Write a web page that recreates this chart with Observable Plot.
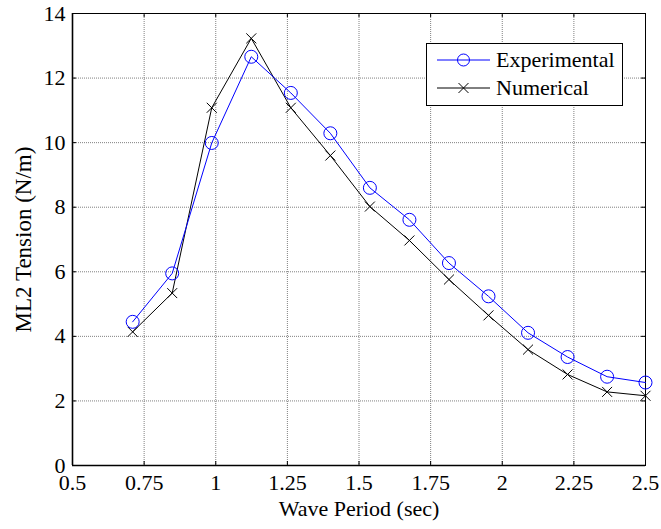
<!DOCTYPE html>
<html>
<head>
<meta charset="utf-8">
<script src="https://cdn.jsdelivr.net/npm/d3@7"></script>
<script src="https://cdn.jsdelivr.net/npm/@observablehq/plot@0.6"></script>
<style>
  body { margin: 0; background: white; }
  #wrap { position: relative; width: 661px; height: 529px; }
  #legend { position: absolute; left: 426px; top: 43px; width: 195px; height: 61px;
    background: white; border: 1px solid black; }
</style>
</head>
<body>
<div id="wrap">
  <div id="chart"></div>
  <div id="legend"></div>
</div>
<script>
const periods      = [0.71, 0.848, 0.986, 1.124, 1.262, 1.40, 1.538, 1.676, 1.814, 1.952, 2.09, 2.228, 2.366, 2.5];
const experimental = [4.45, 5.95, 9.99, 12.66, 11.54, 10.29, 8.60, 7.61, 6.27, 5.24, 4.11, 3.36, 2.75, 2.57];
const numerical    = [4.14, 5.34, 11.08, 13.23, 11.08, 9.60, 8.02, 6.97, 5.76, 4.65, 3.59, 2.82, 2.28, 2.16];
const seriesNames  = ["Experimental", "Numerical"];
const xTicks       = [0.5, 0.75, 1, 1.25, 1.5, 1.75, 2, 2.25, 2.5];
const xTickLabels  = ["0.5", "0.75", "1", "1.25", "1.5", "1.75", "2", "2.25", "2.5"];
const yTicks       = [0, 2, 4, 6, 8, 10, 12, 14];
const xLabel = "Wave Period (sec)";
const yLabel = "ML2 Tension (N/m)";

const expData = periods.map((p, i) => ({x: p, y: experimental[i]}));
const numData = periods.map((p, i) => ({x: p, y: numerical[i]}));

const W = 661, H = 529, mL = 72, mR = 16, mT = 13, mB = 64;
const innerW = W - mL - mR, innerH = H - mT - mB;
const FONT = "'Liberation Serif', 'Times New Roman', serif";
const FS = 22;
const gridStyle = {stroke: "#808080", strokeOpacity: 1, strokeWidth: 1, strokeDasharray: "1,1"};

const chart = Plot.plot({
  width: W, height: H,
  marginLeft: mL, marginRight: mR, marginTop: mT, marginBottom: mB,
  style: {fontFamily: FONT, fontSize: FS + "px", color: "black", background: "white", overflow: "visible"},
  x: {domain: [0.5, 2.5], ticks: xTicks},
  y: {domain: [0, 14], ticks: yTicks},
  marks: [
    Plot.gridX(xTicks, gridStyle),
    Plot.gridY(yTicks, gridStyle),
    Plot.axisX(xTicks, {tickSize: 0, tickPadding: 9, label: null,
      tickFormat: d => xTickLabels[xTicks.indexOf(d)], fontSize: FS}),
    Plot.axisY(yTicks, {tickSize: 0, tickPadding: 7, label: null, fontSize: FS}),
    // inward tick marks
    Plot.tickX(xTicks, {x: d => d, insetTop: innerH - 4, stroke: "black"}),
    Plot.tickX(xTicks, {x: d => d, insetBottom: innerH - 4, stroke: "black"}),
    Plot.tickY(yTicks, {y: d => d, insetRight: innerW - 4, stroke: "black"}),
    Plot.tickY(yTicks, {y: d => d, insetLeft: innerW - 4, stroke: "black"}),
    Plot.frame({stroke: "black", strokeWidth: 1}),
    Plot.ruleX([0.5], {stroke: "black", strokeWidth: 1.6}),
    Plot.ruleY([0], {stroke: "black", strokeWidth: 1.6}),
    // series
    Plot.line(numData, {x: "x", y: "y", stroke: "black", strokeWidth: 1}),
    Plot.dot(numData, {x: "x", y: "y", symbol: "times", r: 4.6, stroke: "black", strokeWidth: 1}),
    Plot.line(expData, {x: "x", y: "y", stroke: "#0000ff", strokeWidth: 1}),
    Plot.dot(expData, {x: "x", y: "y", symbol: "circle", r: 6.5, stroke: "#0000ff", fill: "none", strokeWidth: 1}),
    // axis titles
    Plot.text([xLabel], {text: d => d, frameAnchor: "bottom", lineAnchor: "middle", textAnchor: "middle",
      dy: 43, fontSize: FS, fill: "black"}),
    Plot.text([yLabel], {text: d => d, frameAnchor: "left", lineAnchor: "middle", textAnchor: "middle",
      dx: -49, rotate: -90, fontSize: 23, fill: "black"})
  ]
});
document.getElementById("chart").appendChild(chart);

// legend (HTML/SVG overlay, MATLAB style)
const lg = d3.select("#legend").append("svg").attr("width", 195).attr("height", 61)
  .style("font-family", FONT).style("font-size", FS + "px");
const rows = [
  {name: seriesNames[0], color: "#0000ff", sym: "circle", y: 16},
  {name: seriesNames[1], color: "black", sym: "times", y: 44}
];
for (const r of rows) {
  lg.append("line").attr("x1", 10).attr("x2", 63).attr("y1", r.y).attr("y2", r.y)
    .attr("stroke", r.color).attr("stroke-width", 1);
  if (r.sym === "circle") {
    lg.append("circle").attr("cx", 36.5).attr("cy", r.y).attr("r", 6).attr("fill", "none")
      .attr("stroke", r.color);
  } else {
    lg.append("path").attr("transform", `translate(36.5,${r.y})`)
      .attr("d", d3.symbol(d3.symbolTimes, 4.6 * 4.6 * Math.PI)())
      .attr("stroke", r.color).attr("fill", "none");
  }
  lg.append("text").attr("x", 69).attr("y", r.y).attr("dy", "0.32em").attr("fill", "black").text(r.name);
}
</script>
</body>
</html>
